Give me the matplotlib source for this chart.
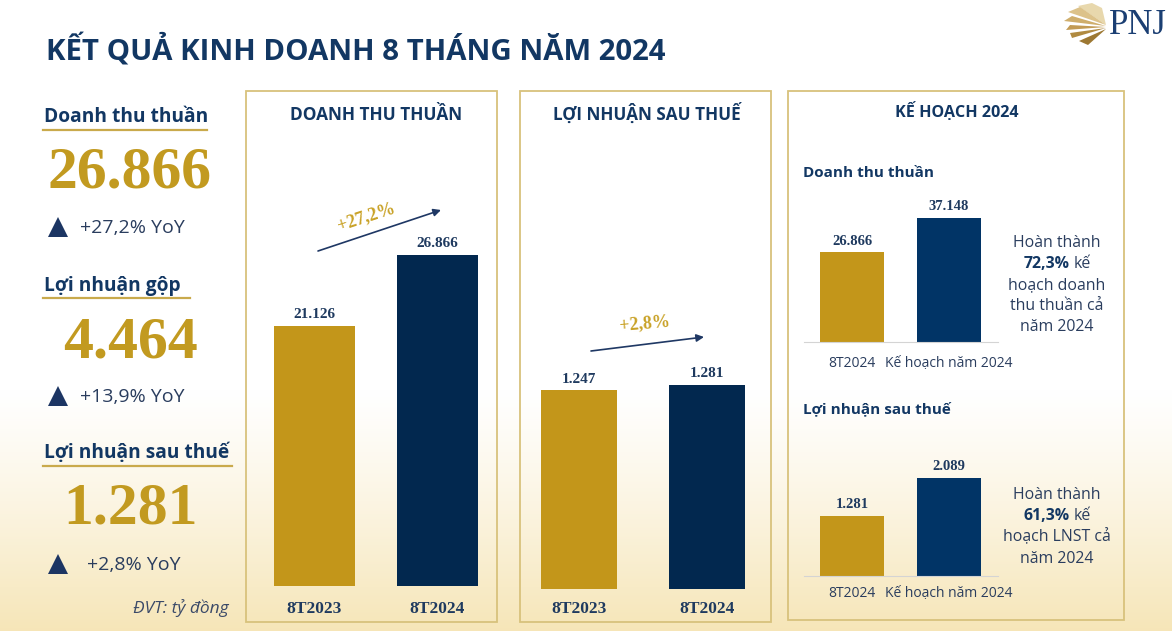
import numpy as np
import matplotlib
matplotlib.use("Agg")
import matplotlib.pyplot as plt
from matplotlib.patches import Rectangle, Polygon

W, H = 1172, 631
SANS = ['Open Sans', 'DejaVu Sans']
SERIF = ['Liberation Serif', 'DejaVu Serif']

# ---------------- data ----------------
title = "KẾT QUẢ KINH DOANH 8 THÁNG NĂM 2024"
kpi_names = ["Doanh thu thuần", "Lợi nhuận gộp", "Lợi nhuận sau thuế"]
kpi_values = [26866, 4464, 1281]
kpi_growth = ["+27,2% YoY", "+13,9% YoY", "+2,8% YoY"]
unit_note = "ĐVT: tỷ đồng"

period_labels = ["8T2023", "8T2024"]
revenue = [21126, 26866]
revenue_growth = "+27,2%"
profit = [1247, 1281]
profit_growth = "+2,8%"

plan_title = "KẾ HOẠCH 2024"
plan_labels = ["8T2024", "Kế hoạch năm 2024"]
plan_revenue = [26866, 37148]
plan_profit = [1281, 2089]
plan_revenue_pct = "72,3%"
plan_profit_pct = "61,3%"

# ---------------- style ----------------
NAVY_T = '#123763'
NAVY_BAR = '#02284f'
NAVY_BAR2 = '#013466'
GOLD_BAR = '#c3961a'
GOLD_TXT = '#c29a20'
BORDER = '#d8c27c'
LABEL = '#1f3a5f'
BODY = '#2a3d5e'


def fmt(v):
    return f"{v:,.0f}".replace(",", ".")


fig = plt.figure(figsize=(W / 100, H / 100), dpi=100)

# background gradient
bg = fig.add_axes([0, 0, 1, 1], zorder=-2)
ys = np.arange(H)
t = np.clip((ys - 390) / (H - 390), 0, 1) ** 1.2
c_top = np.array([1.0, 1.0, 1.0])
c_bot = np.array([0.965, 0.90, 0.72])
img = c_top[None, :] * (1 - t[:, None]) + c_bot[None, :] * t[:, None]
img = np.repeat(img[:, None, :], 2, axis=1)
bg.imshow(img, aspect='auto', extent=[0, W, H, 0], interpolation='bilinear')
bg.set_xlim(0, W)
bg.set_ylim(H, 0)
bg.axis('off')

# overlay in pixel coordinates
ov = fig.add_axes([0, 0, 1, 1], zorder=0)
ov.set_xlim(0, W)
ov.set_ylim(H, 0)
ov.axis('off')
ov.patch.set_alpha(0)

# title
ov.text(46, 59, title, family=SANS, weight='bold', fontsize=21.2, color=NAVY_T,
        ha='left', va='baseline')

# logo
ov.text(1109, 34, "PNJ", family=SERIF, fontsize=25, color='#1b3f73',
        ha='left', va='baseline')
stripes = [
    [(1106, 25), (1078, 6), (1092, 3), (1102, 8)],
    [(1106, 25), (1068, 12), (1080, 7)],
    [(1106, 26), (1064, 21), (1072, 16)],
    [(1106, 27), (1066, 30), (1070, 25)],
    [(1106, 28), (1072, 38), (1070, 33)],
    [(1106, 29), (1088, 45), (1079, 41)],
]
gcols = ['#e8d8ad', '#dcc28a', '#cfae6c', '#c29b55', '#b08a40', '#9d7832']
for pts, c in zip(stripes, gcols):
    ov.add_patch(Polygon(pts, closed=True, color=c, lw=0))

# left KPI column
head_base = [122, 291, 458]
line_y = [130, 298, 466]
line_x1 = [207, 190, 232]
num_base = [188, 357, 524]
grow_base = [233, 402, 570]
grow_x = [80, 80, 87]
for i in range(3):
    ov.text(44, head_base[i], kpi_names[i], family=SANS, weight='bold',
            fontsize=13.8, color=NAVY_T, ha='left', va='baseline')
    ov.plot([43, line_x1[i]], [line_y[i], line_y[i]], color='#c9aa4c', lw=1.6)
    ov.text(130, num_base[i], fmt(kpi_values[i]), family=SERIF, weight='bold',
            fontsize=43, color=GOLD_TXT, ha='center', va='baseline')
    ov.plot([58], [grow_base[i] - 6], marker='^', ms=14, color='#1c3563', mew=0)
    ov.text(grow_x[i], grow_base[i], kpi_growth[i], family=SANS, fontsize=14,
            color=BODY, ha='left', va='baseline')
ov.text(229, 613, unit_note, family=SANS, style='italic', fontsize=12.5,
        color='#3b4a68', ha='right', va='baseline')

# panel borders
for (x0, y0, x1, y1) in [(246, 91, 497, 622), (520, 91, 771, 622), (788, 91, 1124, 620)]:
    ov.add_patch(Rectangle((x0, y0), x1 - x0, y1 - y0, fill=False,
                           edgecolor=BORDER, lw=1.3))

# panel titles
ov.text(376, 120, "DOANH THU THUẦN", family=SANS, weight='bold', fontsize=12.4,
        color=NAVY_T, ha='center', va='baseline')
ov.text(647, 120, "LỢI NHUẬN SAU THUẾ", family=SANS, weight='bold', fontsize=12.3,
        color=NAVY_T, ha='center', va='baseline')
ov.text(957, 117, plan_title, family=SANS, weight='bold', fontsize=11.6,
        color=NAVY_T, ha='center', va='baseline')
ov.text(803, 177, "Doanh thu thuần", family=SANS, weight='bold', fontsize=11,
        color=NAVY_T, ha='left', va='baseline')
ov.text(803, 413, "Lợi nhuận sau thuế", family=SANS, weight='bold', fontsize=11,
        color=NAVY_T, ha='left', va='baseline')


def px_axes(left, top, right, bottom):
    ax = fig.add_axes([left / W, 1 - bottom / H, (right - left) / W, (bottom - top) / H],
                      zorder=1)
    ax.patch.set_alpha(0)
    for s in ax.spines.values():
        s.set_visible(False)
    ax.set_xticks([])
    ax.set_yticks([])
    return ax


def bar_panel(ax, vals, labels, colors, width, ymax, val_fs, val_off,
              lab_font, lab_fs, lab_weight, lab_off, lab_color):
    x = np.arange(len(vals))
    ax.bar(x, vals, width=width, color=colors)
    ax.set_xlim(-0.5, len(vals) - 0.5)
    ax.set_ylim(0, ymax)
    for xi, v in zip(x, vals):
        ax.annotate(fmt(v), xy=(xi, v), xytext=(0, val_off), textcoords='offset points',
                    ha='center', va='baseline', family=SERIF, weight='bold',
                    fontsize=val_fs, color=LABEL)
    for xi, lab in zip(x, labels):
        ax.annotate(lab, xy=(xi, 0), xycoords=('data', 'axes fraction'),
                    xytext=(0, -lab_off), textcoords='offset points',
                    ha='center', va='baseline', family=lab_font, weight=lab_weight,
                    fontsize=lab_fs, color=lab_color, annotation_clip=False)


# panel 1: revenue
ax1 = px_axes(253, 200, 499, 586)
bar_panel(ax1, revenue, period_labels, [GOLD_BAR, NAVY_BAR], 0.66,
          max(revenue) * 386 / 331, 11, 5.5, SERIF, 12.5, 'bold', 19.5, LABEL)

# panel 2: profit
ax2 = px_axes(515, 200, 771, 589)
bar_panel(ax2, profit, period_labels, [GOLD_BAR, NAVY_BAR], 0.59,
          max(profit) * 389 / 204, 11, 5.5, SERIF, 12.5, 'bold', 17.5, LABEL)

# growth arrows
ov.annotate("", xy=(441, 210), xytext=(318, 251),
            arrowprops=dict(arrowstyle='-|>', color='#1f3864', lw=1.2,
                            mutation_scale=11, shrinkA=0, shrinkB=0))
ov.text(366, 217, revenue_growth, family=SERIF, weight='bold', fontsize=13,
        color='#c9a227', ha='center', va='center', rotation=18, rotation_mode='anchor')
ov.annotate("", xy=(704, 337), xytext=(591, 351),
            arrowprops=dict(arrowstyle='-|>', color='#1f3864', lw=1.2,
                            mutation_scale=11, shrinkA=0, shrinkB=0))
ov.text(645, 324, profit_growth, family=SERIF, weight='bold', fontsize=13,
        color='#c9a227', ha='center', va='center', rotation=5, rotation_mode='anchor')

# panel 3: plan
ax3 = px_axes(803.5, 190, 997.5, 342)
ax3.spines['bottom'].set_visible(True)
ax3.spines['bottom'].set_color('#d4d4d4')
bar_panel(ax3, plan_revenue, plan_labels, [GOLD_BAR, NAVY_BAR2], 0.65,
          max(plan_revenue) * 152 / 124, 10.5, 5.5, SANS, 10, 'normal', 18, BODY)

ax4 = px_axes(803.5, 430, 997.5, 576)
ax4.spines['bottom'].set_visible(True)
ax4.spines['bottom'].set_color('#d4d4d4')
bar_panel(ax4, plan_profit, plan_labels, [GOLD_BAR, NAVY_BAR2], 0.65,
          max(plan_profit) * 146 / 98, 10.5, 5.5, SANS, 10, 'normal', 15, BODY)


def note(lines_before, pct, lines_after, base, step, cx=1057, split=1070):
    y = base
    for s in lines_before:
        ov.text(cx, y, s, family=SANS, fontsize=11.4, color=BODY, ha='center', va='baseline')
        y += step
    ov.text(split, y, pct, family=SANS, weight='bold', fontsize=11.4, color=NAVY_T,
            ha='right', va='baseline')
    ov.text(split + 4, y, "kế", family=SANS, fontsize=11.4, color=BODY,
            ha='left', va='baseline')
    y += step
    for s in lines_after:
        ov.text(cx, y, s, family=SANS, fontsize=11.4, color=BODY, ha='center', va='baseline')
        y += step


note(["Hoàn thành"], plan_revenue_pct, ["hoạch doanh", "thu thuần cả", "năm 2024"], 247, 21)
note(["Hoàn thành"], plan_profit_pct, ["hoạch LNST cả", "năm 2024"], 499, 21.3)

fig.savefig("out.png", dpi=100)
